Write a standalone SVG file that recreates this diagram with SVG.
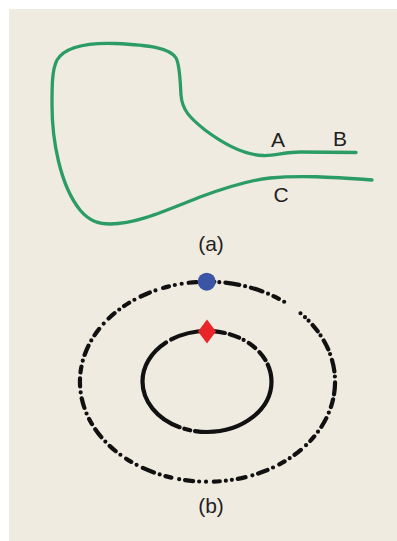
<svg xmlns="http://www.w3.org/2000/svg" width="397" height="541" viewBox="0 0 397 541">
<style>
.lbl{font-family:"Liberation Sans",Arial,sans-serif;font-size:21px;fill:#231f20;text-anchor:middle}
.orbit{fill:none;stroke:#111;stroke-width:4.2;stroke-linecap:round}
</style>
<rect width="397" height="541" fill="#ffffff"/>
<rect x="9" y="9" width="388" height="532" fill="#f0ebe1"/>
<g id="panel-a">
<path id="tube" fill="none" stroke="#2b9c63" stroke-width="3.3" stroke-linecap="round" d="M 356 152.5 L 300 152 C 285 152 275 156 263 155.5 C 245 155 225 145 205 130 C 190 118 182 110 181 95 C 180 80 180 65 176 58 C 170 48 150 45 115 43.5 C 85 42.5 65 47 57 60 C 52 70 52 85 52 105 C 52 140 60 185 80 210 C 90 222 100 224 110 224 C 135 224 160 213 200 197 C 230 186 250 180 270 178 C 300 175 330 177 372 180"/>
<text class="lbl" x="278" y="147">A</text>
<text class="lbl" x="340" y="146">B</text>
<text class="lbl" x="281" y="202">C</text>
<text class="lbl" x="211" y="251">(a)</text>
</g>
<g id="panel-b">
<path id="outer-orbit" class="orbit" stroke-dasharray="0 7 0 5 0 6 14 6 0 6 12 6 0 6 6 6 0 20 0 6 0 5 0 6 8 5 0 6 10 5 0 6 12 5 0 6 12 5 8 6 0 6 10 6 0 6 6 6 0 7 8 6 0 6 6 7 0 6 10 6 0 7 8 6 0 6 0 6 6 8 0 7 0 6 8 6 0 8 6 6 0 6 12 7 0 6 6 7 0 6 8 6 0 6 10 6 6 6 0 6 10 6 0 6 8 6 6 6 0 6 10 6 0 6 8 7 0 7 8 6 0 6 6 6 0 7 10 6 0 8 6 6 0 7 0 7 8 7" d="M 207.5 281.7 A 127.5 100 0 1 1 207.5 481.7 A 127.5 100 0 1 1 207.5 281.7"/>
<path id="inner-orbit" class="orbit" stroke-dasharray="0 6 12 5 10 5 0 6 8 6 10 5 120 5 6 5 110 6 60" d="M 207 331 A 64.5 50.5 0 1 1 207 432 A 64.5 50.5 0 1 1 207 331"/>
<circle id="planet" cx="206.7" cy="281.7" r="9" fill="#3a55a5"/>
<polygon id="marker" points="207,319.5 216,331.5 207,343.5 198,331.5" fill="#e8262a"/>
<text class="lbl" x="211" y="513">(b)</text>
</g>
</svg>
